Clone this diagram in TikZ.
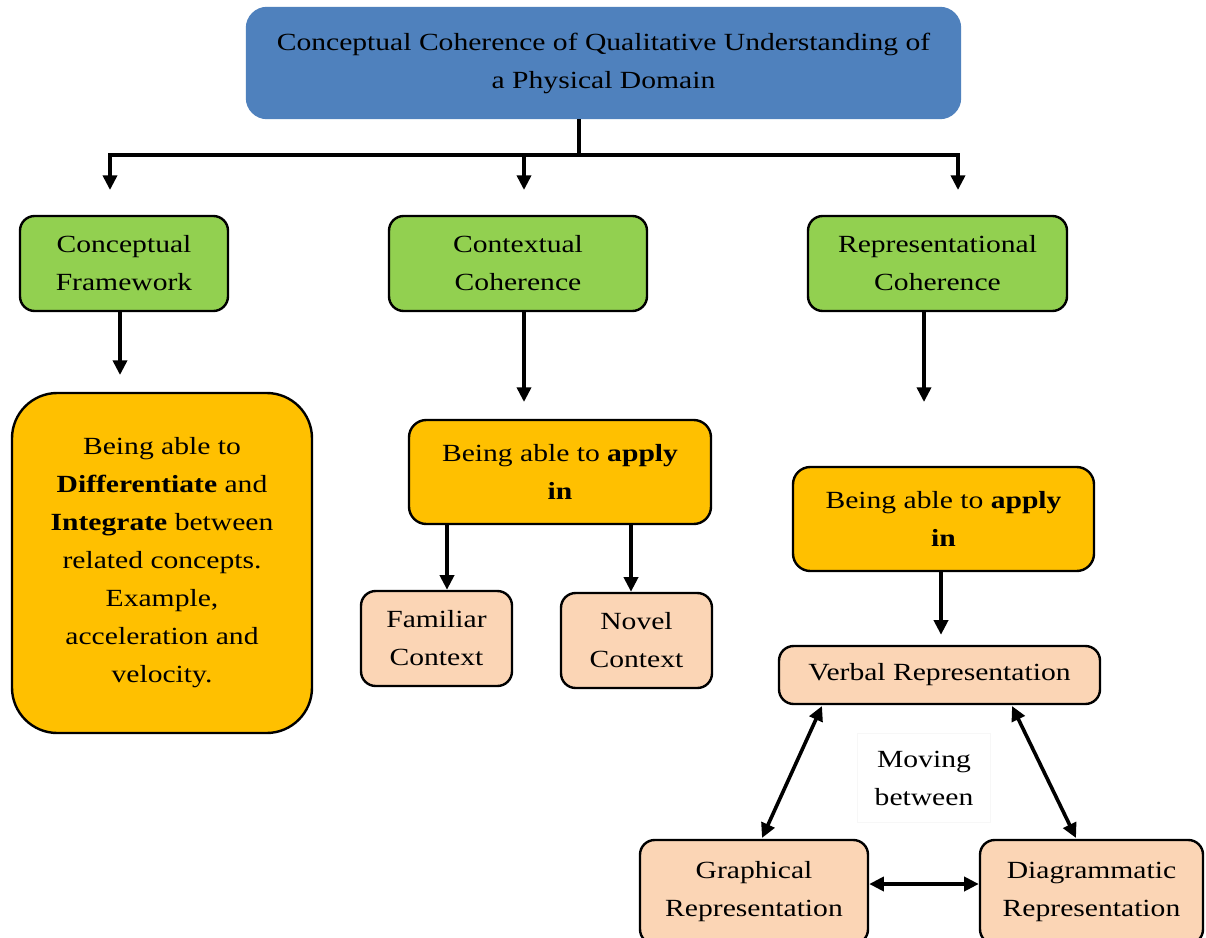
\documentclass[tikz,border=0pt]{standalone}
\usepackage{fontspec}
\setmainfont{Liberation Serif}[FakeStretch=1.2]
\usepackage{tikz}
\usetikzlibrary{arrows.meta}
\usetikzlibrary{shapes.misc}
\definecolor{titleblue}{HTML}{4F81BD}
\definecolor{leafgreen}{HTML}{92D050}
\definecolor{amber}{HTML}{FFC000}
\definecolor{peach}{HTML}{FBD5B5}

\begin{document}
\begin{tikzpicture}[x=0.75pt, y=-0.75pt,
	box/.style={draw=black, line width=1.8pt, align=center, inner sep=0pt, font=\fontsize{18.5}{28.5}\selectfont},
	topbox/.style={box, fill=titleblue, draw=titleblue, rounded corners=15pt},
	greenbox/.style={box, fill=leafgreen, rounded corners=11pt},
	amberbox/.style={box, fill=amber, rounded corners=13pt},
	peachbox/.style={box, fill=peach, rounded corners=11pt},
	arr/.style={line width=2.7pt, -{Triangle[width=10.5pt,length=11pt]}},
	twoway/.style={line width=2.7pt, {Triangle[width=10.5pt,length=11pt]}-{Triangle[width=10.5pt,length=11pt]}}]
		\useasboundingbox (0,0) rectangle (1206,938);
		\fill[white] (0,0) rectangle (1206,938);

		\node[topbox, minimum width=534.75pt, minimum height=82.5pt] (title) at (603.5,63)
			{Conceptual Coherence of Qualitative Understanding of\\a Physical Domain};

		\node[greenbox, minimum width=156pt, minimum height=71.25pt] (framework) at (124,263.5) {Conceptual\\Framework};
		\node[greenbox, minimum width=193.5pt, minimum height=71.25pt] (contextual) at (518,263.5) {Contextual\\Coherence};
		\node[greenbox, minimum width=194.25pt, minimum height=71.25pt] (representational) at (937.5,263.5) {Representational\\Coherence};

		\node[amberbox, rounded corners=34pt, minimum width=225pt, minimum height=255pt] (differentiate) at (162,563)
			{Being able to\\\textbf{Differentiate} and\\\textbf{Integrate} between\\related concepts.\\Example,\\acceleration and\\velocity.};
		\node[amberbox, minimum width=226.5pt, minimum height=78pt] (applyctx) at (560,472) {Being able to \textbf{apply}\\\textbf{in}};
		\node[amberbox, minimum width=225.75pt, minimum height=78pt] (applyrep) at (943.5,519) {Being able to \textbf{apply}\\\textbf{in}};

		\node[peachbox, minimum width=113.25pt, minimum height=71.25pt] (familiar) at (436.5,638.5) {Familiar\\Context};
		\node[peachbox, minimum width=113.25pt, minimum height=71.25pt] (novel) at (636.5,640.5) {Novel\\Context};
		\node[peachbox, minimum width=240.75pt, minimum height=43.5pt] (verbal) at (939.5,675) {Verbal Representation};
		\node[peachbox, minimum width=171pt, minimum height=78pt] (graphical) at (754,892) {Graphical\\Representation};
		\node[peachbox, minimum width=167.25pt, minimum height=78pt] (diagrammatic) at (1091.5,892) {Diagrammatic\\Representation};
		\node[box, draw=black!3, line width=0.6pt, minimum width=100pt, minimum height=67pt] (moving) at (924,778) {Moving\\between};

		\coordinate (fork) at (579,155);
		\coordinate (tipA) at (110,190);
		\coordinate (tipB) at (524,190);
		\coordinate (tipC) at (958,190);
		\draw[line width=2.7pt] (title.south -| fork) -- (fork);
		\draw[arr] (fork) -| (tipA);
		\draw[arr] (fork) -| (tipB);
		\draw[arr] (fork) -| (tipC);

		\coordinate (endA) at (120,375);
		\coordinate (endB) at (524,402);
		\coordinate (endC) at (924,402);
		\draw[arr] (framework.south -| endA) -- (endA);
		\draw[arr] (contextual.south -| endB) -- (endB);
		\draw[arr] (representational.south -| endC) -- (endC);

		\coordinate (colA) at (447,0);
		\coordinate (colB) at (631,0);
		\coordinate (colC) at (941,0);
		\draw[arr] (applyctx.south -| colA) -- (familiar.north -| colA);
		\draw[arr] (applyctx.south -| colB) -- (novel.north -| colB);
		\draw[arr] (applyrep.south -| colC) -- ([yshift=7.5pt]verbal.north -| colC);

		\coordinate (vl) at (822,706);
		\coordinate (vr) at (1012,706);
		\coordinate (gt) at (762,838);
		\coordinate (dt) at (1076,838);
		\draw[twoway] (vl) -- (gt);
		\draw[twoway] (vr) -- (dt);
		\draw[twoway] (graphical.east |- 0,884) -- (diagrammatic.west |- 0,884);
		\end{tikzpicture}
\end{document}
